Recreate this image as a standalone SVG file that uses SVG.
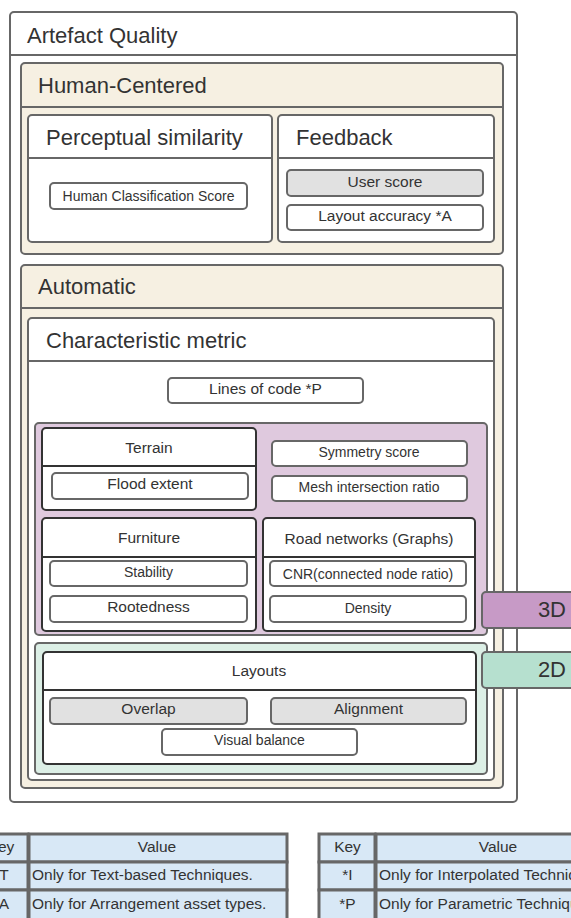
<svg xmlns="http://www.w3.org/2000/svg" width="571" height="918" viewBox="0 0 571 918">
  <style>
    text { font-family: "Liberation Sans", Arial, sans-serif; fill: #333333; }
    .container { stroke: #676767; stroke-width: 2; }
    .dark { fill: #ffffff; stroke: #333333; stroke-width: 2; }
    .metric { fill: #ffffff; stroke: #676767; stroke-width: 2; }
    .metric-grey { fill: #e1e1e1; stroke: #676767; stroke-width: 2; }
    .rule { stroke: #676767; stroke-width: 2; }
    .rule-dark { stroke: #333333; stroke-width: 2; }
    .title { font-size: 22px; }
    .label { font-size: 15.5px; text-anchor: middle; }
    .small { font-size: 14px; text-anchor: middle; }
    .cell { fill: #d8e8f6; stroke: #676767; stroke-width: 3; }
    .tab { font-size: 15.5px; }
    .mid { text-anchor: middle; }
  </style>

  <!-- Top-level container -->
  <g id="artefact-quality">
    <rect x="10" y="12" width="507" height="790" rx="4" fill="#ffffff" class="container"/>
    <line x1="10" y1="55" x2="517" y2="55" class="rule"/>
    <text x="27" y="42.5" class="title">Artefact Quality</text>
  </g>

  <!-- Human-centred metrics -->
  <g id="human-centered">
    <rect x="21" y="63" width="482" height="191" rx="4" fill="#f6f0e2" class="container"/>
    <line x1="21" y1="107" x2="503" y2="107" class="rule"/>
    <text x="38" y="92.5" class="title">Human-Centered</text>
  </g>

  <g id="perceptual-similarity">
    <rect x="28" y="115" width="244" height="127" rx="4" fill="#ffffff" class="container"/>
    <line x1="28" y1="158" x2="272" y2="158" class="rule"/>
    <text x="46" y="144.5" class="title">Perceptual similarity</text>
  </g>
  <g id="human-classification-score">
    <rect x="50" y="183" width="197" height="26" rx="4" class="metric"/>
    <text x="148.5" y="200.5" class="small">Human Classification Score</text>
  </g>

  <g id="feedback">
    <rect x="278" y="115" width="216" height="127" rx="4" fill="#ffffff" class="container"/>
    <line x1="278" y1="158" x2="494" y2="158" class="rule"/>
    <text x="296" y="145" class="title">Feedback</text>
  </g>
  <g id="user-score">
    <rect x="287" y="170" width="196" height="26" rx="4" class="metric-grey"/>
    <text x="385" y="186.5" class="label">User score</text>
  </g>
  <g id="layout-accuracy">
    <rect x="287" y="205" width="196" height="25" rx="4" class="metric"/>
    <text x="385" y="221" class="label">Layout accuracy *A</text>
  </g>

  <!-- Automatic metrics -->
  <g id="automatic">
    <rect x="21" y="265" width="482" height="523" rx="4" fill="#f6f0e2" class="container"/>
    <line x1="21" y1="308" x2="503" y2="308" class="rule"/>
    <text x="38" y="294" class="title">Automatic</text>
  </g>

  <g id="characteristic-metric">
    <rect x="28" y="318" width="466" height="462" rx="4" fill="#ffffff" class="container"/>
    <line x1="28" y1="361" x2="494" y2="361" class="rule"/>
    <text x="46" y="347.5" class="title">Characteristic metric</text>
  </g>
  <g id="lines-of-code">
    <rect x="168" y="378" width="195" height="25" rx="4" class="metric"/>
    <text x="265.5" y="393.5" class="label">Lines of code *P</text>
  </g>

  <!-- 3D group -->
  <g id="group-3d">
    <rect x="35" y="423" width="452" height="212" rx="4" fill="#dfc9de" class="container"/>
  </g>

  <g id="terrain">
    <rect x="42" y="428" width="214" height="82" rx="4" class="dark"/>
    <line x1="42" y1="466" x2="256" y2="466" class="rule-dark"/>
    <text x="149" y="452.5" class="label">Terrain</text>
  </g>
  <g id="flood-extent">
    <rect x="52" y="473" width="196" height="26" rx="4" class="metric"/>
    <text x="150" y="489" class="label">Flood extent</text>
  </g>

  <g id="symmetry-score">
    <rect x="272" y="441" width="195" height="25" rx="4" class="metric"/>
    <text x="369" y="457" class="small">Symmetry score</text>
  </g>
  <g id="mesh-intersection-ratio">
    <rect x="272" y="476" width="195" height="25" rx="4" class="metric"/>
    <text x="369" y="491.5" class="small">Mesh intersection ratio</text>
  </g>

  <g id="furniture">
    <rect x="42" y="518" width="214" height="113" rx="4" class="dark"/>
    <line x1="42" y1="557" x2="256" y2="557" class="rule-dark"/>
    <text x="149" y="543" class="label">Furniture</text>
  </g>
  <g id="stability">
    <rect x="50" y="561" width="197" height="25" rx="4" class="metric"/>
    <text x="148.5" y="577" class="small">Stability</text>
  </g>
  <g id="rootedness">
    <rect x="50" y="596" width="197" height="26" rx="4" class="metric"/>
    <text x="148.5" y="612" class="label">Rootedness</text>
  </g>

  <g id="road-networks">
    <rect x="263" y="518" width="212" height="113" rx="4" class="dark"/>
    <line x1="263" y1="557" x2="475" y2="557" class="rule-dark"/>
    <text x="369" y="544" class="label">Road networks (Graphs)</text>
  </g>
  <g id="cnr">
    <rect x="270" y="561" width="196" height="25" rx="4" class="metric"/>
    <text x="368" y="579" class="small">CNR(connected node ratio)</text>
  </g>
  <g id="density">
    <rect x="270" y="596" width="196" height="26" rx="4" class="metric"/>
    <text x="368" y="613" class="small">Density</text>
  </g>

  <!-- 2D group -->
  <g id="group-2d">
    <rect x="35" y="643" width="452" height="131" rx="4" fill="#dcefe6" class="container"/>
  </g>

  <g id="layouts">
    <rect x="43" y="652" width="433" height="112" rx="4" class="dark"/>
    <line x1="43" y1="690" x2="476" y2="690" class="rule-dark"/>
    <text x="259" y="675.5" class="label">Layouts</text>
  </g>
  <g id="overlap">
    <rect x="50" y="698" width="197" height="26" rx="4" class="metric-grey"/>
    <text x="148.5" y="713.5" class="label">Overlap</text>
  </g>
  <g id="alignment">
    <rect x="271" y="698" width="195" height="26" rx="4" class="metric-grey"/>
    <text x="368.5" y="713.5" class="label">Alignment</text>
  </g>
  <g id="visual-balance">
    <rect x="162" y="729" width="195" height="26" rx="4" class="metric"/>
    <text x="259.5" y="745" class="small">Visual balance</text>
  </g>

  <!-- Dimension tags -->
  <g id="tag-3d">
    <rect x="482" y="592" width="100" height="36" rx="4" fill="#c79ac6" class="container"/>
    <text x="566" y="617" class="title" text-anchor="end">3D</text>
  </g>
  <g id="tag-2d">
    <rect x="482" y="652" width="100" height="36" rx="4" fill="#b6e0cf" class="container"/>
    <text x="566" y="677" class="title" text-anchor="end">2D</text>
  </g>

  <!-- Connectors (none drawn) -->
  <g id="connectors"/>

  <!-- Key tables -->
  <g id="key-table-left">
    <rect x="-28" y="834" width="56" height="28" class="cell"/>
    <rect x="29" y="834" width="258" height="28" class="cell"/>
    <rect x="-28" y="862" width="56" height="28" class="cell"/>
    <rect x="29" y="862" width="258" height="28" class="cell"/>
    <rect x="-28" y="890" width="56" height="34" class="cell"/>
    <rect x="29" y="890" width="258" height="34" class="cell"/>
    <text x="1" y="852" class="tab mid">Key</text>
    <text x="157" y="852" class="tab mid">Value</text>
    <text x="1" y="880" class="tab mid">*T</text>
    <text x="32" y="880" class="tab">Only for Text-based Techniques.</text>
    <text x="1" y="908.5" class="tab mid">*A</text>
    <text x="32" y="908.5" class="tab">Only for Arrangement asset types.</text>
  </g>

  <g id="key-table-right">
    <rect x="319" y="834" width="56" height="28" class="cell"/>
    <rect x="376" y="834" width="245" height="28" class="cell"/>
    <rect x="319" y="862" width="56" height="28" class="cell"/>
    <rect x="376" y="862" width="245" height="28" class="cell"/>
    <rect x="319" y="890" width="56" height="34" class="cell"/>
    <rect x="376" y="890" width="245" height="34" class="cell"/>
    <text x="347.5" y="852" class="tab mid">Key</text>
    <text x="498" y="852" class="tab mid">Value</text>
    <text x="347.5" y="880" class="tab mid">*I</text>
    <text x="379" y="880" class="tab">Only for Interpolated Techniques.</text>
    <text x="347.5" y="908.5" class="tab mid">*P</text>
    <text x="379" y="908.5" class="tab">Only for Parametric Techniques.</text>
  </g>
</svg>
